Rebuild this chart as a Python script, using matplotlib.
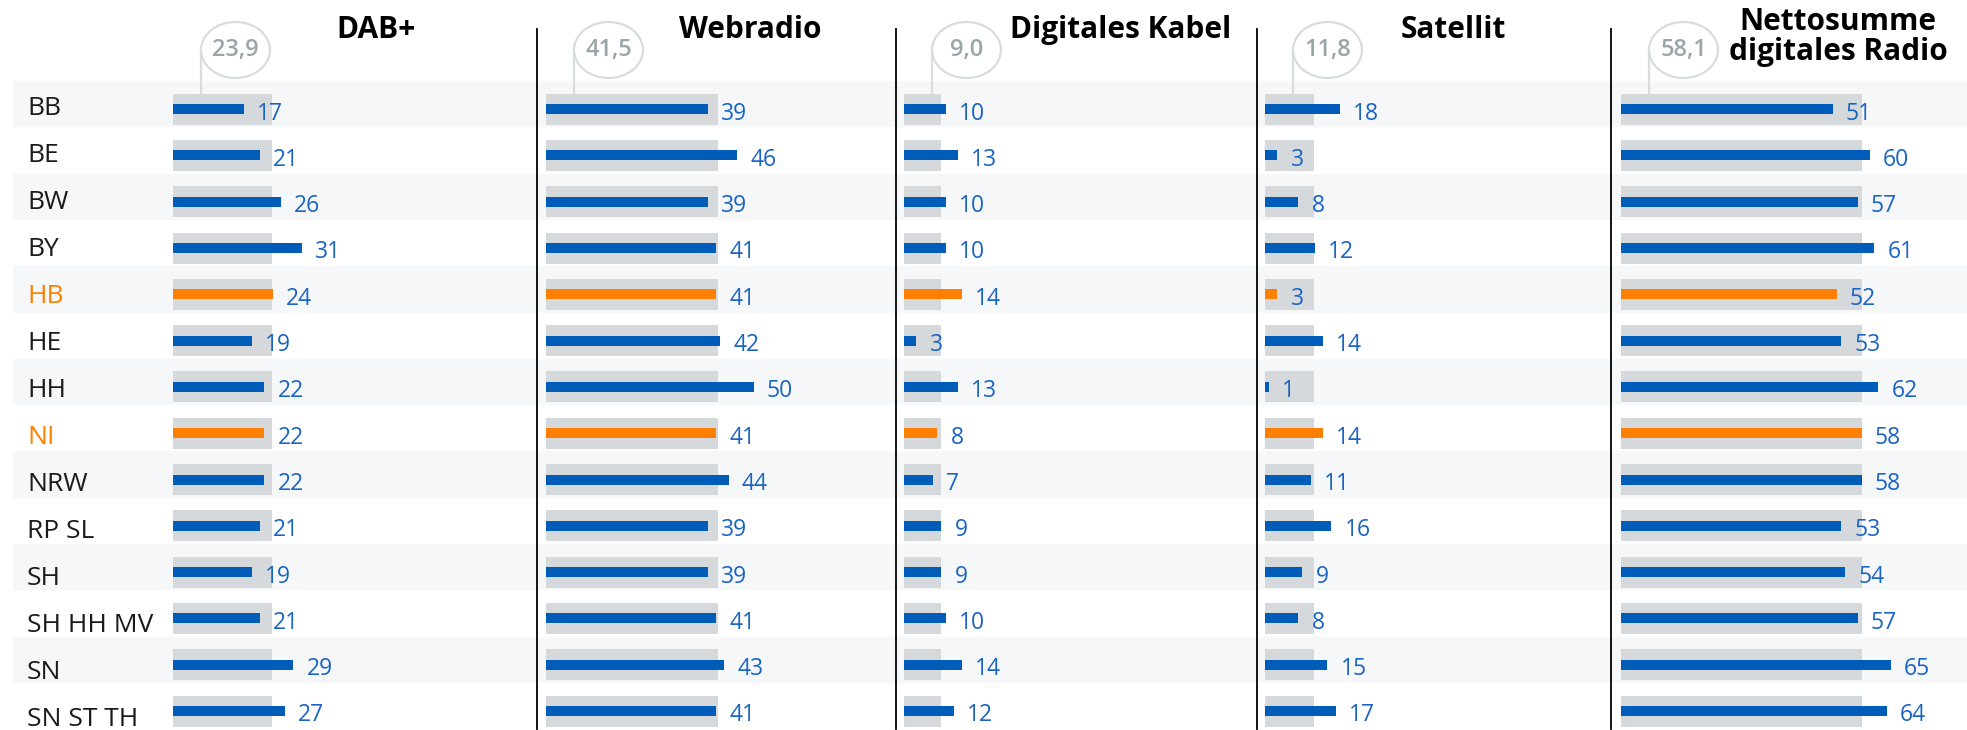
import matplotlib.pyplot as plt
from matplotlib.patches import Ellipse

plt.rcParams['font.family'] = ['Open Sans', 'DejaVu Sans']

laender = ['BB', 'BE', 'BW', 'BY', 'HB', 'HE', 'HH', 'NI', 'NRW', 'RP SL',
           'SH', 'SH HH MV', 'SN', 'SN ST TH']
hervorgehoben = ['HB', 'NI']

titel = ['DAB+', 'Webradio', 'Digitales Kabel', 'Satellit',
         'Nettosumme\ndigitales Radio']
referenz = [23.9, 41.5, 9.0, 11.8, 58.1]
dab = [17, 21, 26, 31, 24, 19, 22, 22, 22, 21, 19, 21, 29, 27]
webradio = [39, 46, 39, 41, 41, 42, 50, 41, 44, 39, 39, 41, 43, 41]
kabel = [10, 13, 10, 10, 14, 3, 13, 8, 7, 9, 9, 10, 14, 12]
satellit = [18, 3, 8, 12, 3, 14, 1, 14, 11, 16, 9, 8, 15, 17]
netto = [51, 60, 57, 61, 52, 53, 62, 58, 58, 53, 54, 57, 65, 64]
werte = [dab, webradio, kabel, satellit, netto]

BLAU = '#005cb9'
TEXTBLAU = '#1a64c4'
ORANGE = '#ff8000'
GRAU = '#d6d9db'
BAND = '#f6f7f9'

W, H = 1967, 730
PX = 4.15          # pixel pro Prozentpunkt
ROW = 46.3         # pixel pro Zeile
TOP = 81
off = 5 / ROW      # balken leicht unter zeilenmitte

fig = plt.figure(figsize=(W / 100, H / 100), dpi=100)
bottom = 1 - (TOP + ROW * len(laender)) / H
height = ROW * len(laender) / H

# hintergrund mit zeilenbaendern und laenderbeschriftung
bg = fig.add_axes([13 / W, bottom, 1 - 13 / W, height])
bg.set_xlim(0, 1)
bg.set_ylim(len(laender) - 0.5, -0.5)
bg.axis('off')
for i, land in enumerate(laender):
    if i % 2 == 0:
        bg.axhspan(i - 0.5, i + 0.5, color=BAND, lw=0)
    # beschriftungen laufen mit etwas groesserem abstand als die balken
    ly = (105 + 47.0 * i - TOP) / ROW - 0.5
    bg.text(14 / (W - 13), ly + 0.02, land, va='center_baseline', ha='left',
            fontsize=19, color=ORANGE if land in hervorgehoben else '#1a1a1a')

starts = [173, 546, 904, 1265, 1621]
ends = [537, 896, 1257, 1611, W]
titel_x = [376, 750, 1121, 1453, 1838]

for k in range(5):
    wpx = ends[k] - starts[k]
    ax = fig.add_axes([starts[k] / W, bottom, wpx / W, height])
    ax.set_xlim(0, wpx / PX)
    ax.set_ylim(len(laender) - 0.5, -0.5)
    ax.axis('off')
    ax.patch.set_alpha(0)

    ys = [i + off for i in range(len(laender))]
    ax.barh(ys, [referenz[k]] * len(laender), height=31 / ROW, color=GRAU, lw=0)
    farben = [ORANGE if l in hervorgehoben else BLAU for l in laender]
    ax.barh(ys, werte[k], height=10 / ROW, color=farben, lw=0)
    for y, v in zip(ys, werte[k]):
        ax.annotate(str(v), (v, y + 0.03), xytext=(9.5, 0), textcoords='offset points',
                    va='center_baseline', ha='left', fontsize=16.5, color=TEXTBLAU)

    # blase mit referenzwert
    sx = 28 / PX
    by = (50 - TOP) / ROW - 0.5
    gtop = off - 31 / ROW / 2
    ax.plot([sx, sx], [by, gtop], color='#d9dcdd', lw=1.6, clip_on=False, zorder=3)
    ax.add_patch(Ellipse((sx + 34.5 / PX, by), 69 / PX, 56 / ROW, facecolor='white',
                         edgecolor='#d9dcdd', lw=1.6, clip_on=False, zorder=4))
    ax.text(sx + 34.5 / PX, by, f'{referenz[k]:.1f}'.replace('.', ','),
            ha='center', va='center', fontsize=17, fontweight='semibold',
            color='#9ba5a8', zorder=5)

    # spaltentitel
    ty = (30 - TOP) / ROW - 0.5 if '\n' not in titel[k] else (37 - TOP) / ROW - 0.5
    ax.text((titel_x[k] - starts[k]) / PX, ty, titel[k], ha='center', va='center',
            fontsize=21.5, fontweight='bold', color='black', linespacing=1.0)

    if k > 0:
        sep = -(starts[k] - ends[k - 1]) / PX
        ax.plot([sep, sep], [(29 - TOP) / ROW - 0.5, len(laender) - 0.5],
                color='black', lw=1.3, clip_on=False)

fig.savefig('out.png', dpi=100)
